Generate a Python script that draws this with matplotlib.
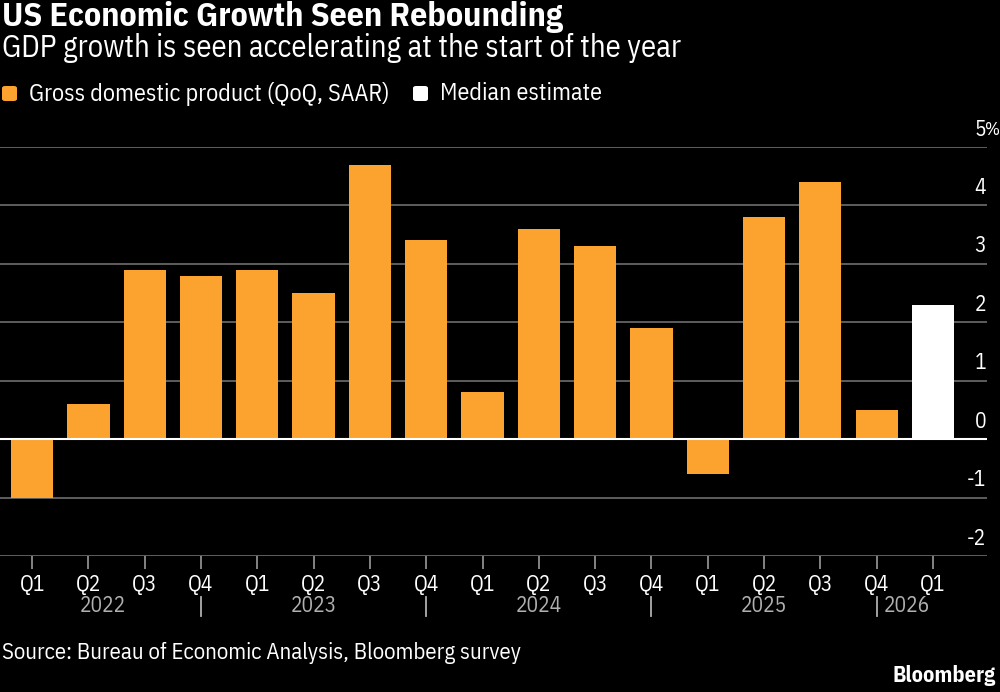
import numpy as np
import matplotlib.pyplot as plt
from matplotlib.patches import FancyBboxPatch
import matplotlib.transforms as mtrans

plt.rcParams['font.family'] = ['IBM Plex Sans Condensed', 'DejaVu Sans']

# donnees
quarters = ['Q1', 'Q2', 'Q3', 'Q4'] * 4 + ['Q1']
years = ['2022', '2023', '2024', '2025', '2026']
gdp = [-1.0, 0.6, 2.9, 2.8, 2.9, 2.5, 4.7, 3.4, 0.8, 3.6, 3.3, 1.9, -0.6, 3.8, 4.4, 0.5]
estimate = [2.3]
yticks = [-2, -1, 0, 1, 2, 3, 4, 5]
series = ['Gross domestic product (QoQ, SAAR)', 'Median estimate']

orange = '#fba22f'
bg = 'black'

fig = plt.figure(figsize=(10, 6.92), dpi=100, facecolor=bg)
ax = fig.add_axes([0, 1 - 556/692, 0.987, (556 - 147)/692])
ax.set_facecolor(bg)

x = np.arange(len(quarters))
ax.bar(x[:len(gdp)], gdp, width=0.75, color=orange, zorder=3)
ax.bar(x[len(gdp):], estimate, width=0.75, color='white', zorder=3)

ax.set_xlim(-0.57, 16.96)
ax.set_ylim(-2, 5)
for s in ax.spines.values():
    s.set_visible(False)

# grille
ax.set_yticks(yticks)
ax.yaxis.grid(True, color='#6e6e6e', lw=1.2, zorder=1)
ax.axhline(0, color='white', lw=1.5, zorder=4)
ax.tick_params(axis='y', length=0, labelleft=False)

# etiquettes y au-dessus des lignes
off = mtrans.ScaledTranslation(0, 12.5 / 72, fig.dpi_scale_trans)
tr = ax.get_yaxis_transform() + off
for v in yticks:
    ax.text(0.999, v, str(v), transform=tr, ha='right', va='center', color='white', fontsize=15.5)
ax.text(0.998, yticks[-1], '%', transform=tr, ha='left', va='center', color='white', fontsize=13)

ax.set_xticks(x)
ax.set_xticklabels(quarters, color='white', fontsize=15.5)
ax.tick_params(axis='x', length=9, width=1.2, color='#9a9a9a', pad=4)

# annees sous les trimestres
ytr = mtrans.blended_transform_factory(ax.transData, fig.transFigure)
bounds = [-0.5, 3, 7, 11, 15]
ypos = 1 - 606/692
for i, yr in enumerate(years[:-1]):
    ax.text((bounds[i] + bounds[i + 1]) / 2, ypos, yr, transform=ytr,
            ha='center', va='center', color='#b0b0b0', fontsize=15.5)
for b in bounds[1:]:
    ax.plot([b, b], [1 - 597/692, 1 - 616/692], transform=ytr, color='#b0b0b0',
            lw=1.3, clip_on=False)
ax.text(bounds[-1] + 0.12, ypos, years[-1], transform=ytr, ha='left', va='center',
        color='#b0b0b0', fontsize=15.5)

# titres
fig.text(0.002, 1 - 17/692, 'US Economic Growth Seen Rebounding', color='white',
         fontsize=24.5, fontweight='bold', va='center')
fig.text(0.002, 1 - 48/692, 'GDP growth is seen accelerating at the start of the year',
         color='white', fontsize=22, va='center')

# legende (carres arrondis)
ly = 1 - 93.5/692
sw, sh = 0.015, 15/692
for xs, xt, col, lab in [(0.002, 0.029, orange, series[0]), (0.413, 0.440, 'white', series[1])]:
    fig.patches.append(FancyBboxPatch((xs, ly - sh / 2), sw, sh,
                                      boxstyle='round,pad=0,rounding_size=0.003',
                                      transform=fig.transFigure, facecolor=col, edgecolor='none'))
    fig.text(xt, ly, lab, color='white', fontsize=17.3, va='center')

fig.text(0.002, 1 - 653/692, 'Source: Bureau of Economic Analysis, Bloomberg survey',
         color='white', fontsize=16.4, va='center')
fig.text(0.996, 1 - 676/692, 'Bloomberg', color='white', fontsize=16,
         fontweight='bold', ha='right', va='center')

fig.savefig('out.png', dpi=100, facecolor=bg)
